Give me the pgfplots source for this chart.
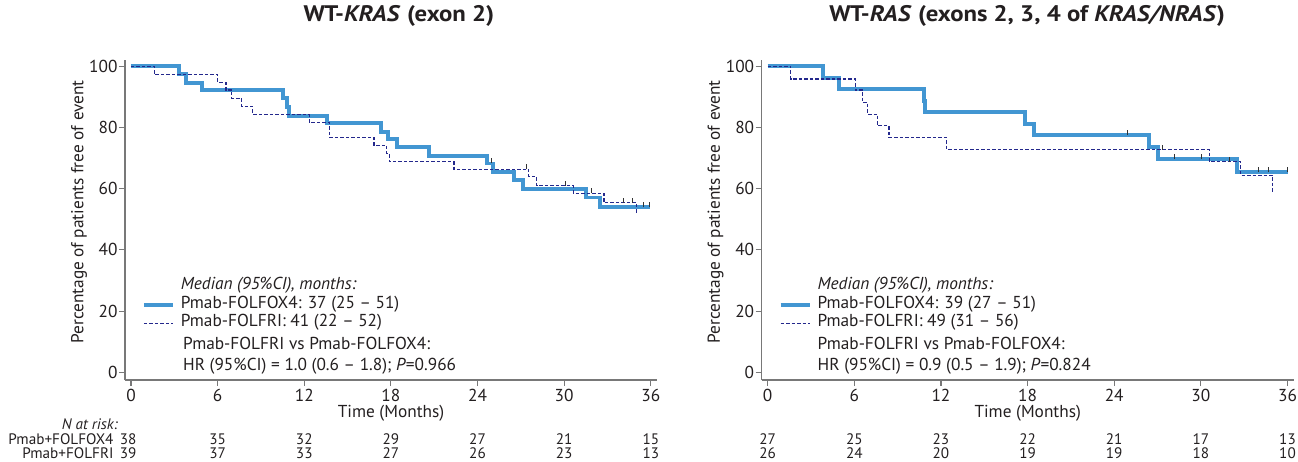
\documentclass[border=0pt]{standalone}
\usepackage{fontspec}
\setmainfont{PT Sans}
\newfontfamily\tfamily[FakeStretch=1.1]{PT Sans}
\usepackage{pgfplots}
\pgfplotsset{compat=1.18}
\definecolor{kmblue}{RGB}{66,150,210}
\definecolor{kmnavy}{RGB}{35,40,140}
\definecolor{axgray}{RGB}{120,120,120}
\definecolor{txt}{RGB}{35,31,32}
\newcommand\fs{\fontsize{17.3}{20}\selectfont}
\newcommand\fr{\fontsize{15.2}{17}\selectfont}
\newcommand\ft{\tfamily\fontsize{22.5}{25}\selectfont}
\pgfdeclareplotmark{tickup}{\pgfpathmoveto{\pgfpointorigin}\pgfpathlineto{\pgfqpoint{0pt}{\pgfplotmarksize}}\pgfusepathqstroke}
\tikzset{rk/.style={font=\fr, text=txt, inner sep=0pt}}
\pgfplotsset{
  kmaxis/.style={
    scale only axis, width=532pt, height=320pt, anchor=south west,
    xmin=-0.415, xmax=36.43, ymin=-2.51, ymax=102,
    axis x line*=bottom, axis y line*=left,
    axis line style={axgray, line width=1.3pt},
    xtick={0,6,...,36}, ytick={0,20,...,100},
    tick align=outside, major tick length=6pt,
    tick style={axgray, line width=1.1pt},
    /pgf/number format/assume math mode=true,
    ticklabel style={font=\fs, text=txt},
    xticklabel style={inner sep=1pt, yshift=-2pt},
    yticklabel style={xshift=2pt},
    xlabel={Time (Months)}, ylabel={Percentage of patients free of event},
    every axis y label/.style={at={(rel axis cs:-0.0865,0.525)}, rotate=90, anchor=center, font=\fs, text=txt},
    every axis x label/.style={at={(rel axis cs:0.5,-0.104)}, anchor=center, font=\fs, text=txt, inner sep=0pt},
    clip=false,
    legend style={draw=none, fill=none, at={(axis cs:0.75,31.2)}, anchor=north west,
      font=\fs, inner sep=0pt, row sep=0pt, text=txt,
      nodes={inner sep=1pt, text height=12pt, text depth=4.5pt, anchor=west},
      /tikz/every odd column/.append style={column sep=5pt}},
    legend cell align=left,
    legend image code/.code={\draw[##1] (0pt,0pt) -- (29pt,0pt);},
  },
  solidkm/.style={kmblue, line width=3.8pt, const plot, mark=none},
  dashkm/.style={kmnavy, line width=1.1pt, dash pattern=on 3.5pt off 2pt, const plot, mark=none},
  cens/.style={only marks, mark=tickup, mark size=5pt, mark options={black!80, line width=0.8pt, solid}, forget plot},
}
\begin{document}
\begin{tikzpicture}
\useasboundingbox (0,0) rectangle (1298pt,461pt);
% ---------------- Left panel ----------------
\begin{axis}[kmaxis, at={(125pt,81pt)},
  title={\textbf{WT-\textit{KRAS} (exon 2)}},
  title style={at={(rel axis cs:0.515,1.119)}, anchor=center, font=\ft\bfseries, text=txt}]
\addlegendimage{empty legend}\addlegendentry{\textit{Median (95\%CI), months:}}
\addplot[solidkm] coordinates {
(0,100) (3.34,97.3) (3.81,94.5) (4.92,92.1) (10.55,89.5) (10.78,86.7) (10.96,83.8)
(13.59,81.3) (17.31,78.6) (17.81,76.1) (18.4,73.5) (20.66,70.7) (24.63,68.2)
(25.09,65.5) (26.52,62.8) (27.13,59.8) (31.49,57.1) (32.48,53.9) (35.95,53.9)};
\addlegendentry{Pmab-FOLFOX4: 37 (25 – 51)}
\addplot[dashkm] coordinates {
(0,100) (1.61,97.2) (6.0,94.7) (6.58,92.2) (6.97,89.5) (7.67,86.9) (8.43,84.3)
(12.35,81.7) (13.73,76.8) (16.83,74.2) (17.71,71.5) (17.89,68.8) (22.37,66.3)
(27.56,63.9) (28.1,60.9) (30.63,58.4) (32.76,55.4) (35.02,51.7)};
\addlegendentry{Pmab-FOLFRI: 41 (22 – 52)}
\addplot[cens] coordinates {(24.93,68.2) (35.5,53.9) (35.9,53.9)};
\addplot[cens] coordinates {(27.4,66.3) (30.1,60.9) (31.9,58.4) (34.1,55.4) (34.7,55.4)};
\node[anchor=north west, align=left, font=\fs, text=txt, inner sep=0pt] at (axis cs:3.6,11.5)
  {Pmab-FOLFRI vs Pmab-FOLFOX4:\\[1pt] HR (95\%CI) = 1.0 (0.6 – 1.8); \textit{P}=0.966};
% risk table
\node[anchor=east, font=\fr\itshape, text=txt, inner sep=0pt] at (axis cs:-0.9,-16.9) {N at risk:};
\node[anchor=east, rk] at (axis cs:-1.2,-21.9) {Pmab+FOLFOX4};
\node[anchor=east, rk] at (axis cs:-1.2,-26.5) {Pmab+FOLFRI};
\node[rk] at (axis cs:-0.2,-21.9) {38}; \node[rk] at (axis cs:-0.2,-26.5) {39};
\node[rk] at (axis cs:6,-21.9) {35};  \node[rk] at (axis cs:6,-26.5) {37};
\node[rk] at (axis cs:12,-21.9) {32}; \node[rk] at (axis cs:12,-26.5) {33};
\node[rk] at (axis cs:18,-21.9) {29}; \node[rk] at (axis cs:18,-26.5) {27};
\node[rk] at (axis cs:24,-21.9) {27}; \node[rk] at (axis cs:24,-26.5) {26};
\node[rk] at (axis cs:30,-21.9) {21}; \node[rk] at (axis cs:30,-26.5) {23};
\node[rk] at (axis cs:36,-21.9) {15}; \node[rk] at (axis cs:36,-26.5) {13};
\end{axis}
% ---------------- Right panel ----------------
\begin{axis}[kmaxis, at={(761.7pt,81pt)},
  title={\textbf{WT-\textit{RAS} (exons 2, 3, 4 of \textit{KRAS/NRAS})}},
  title style={at={(rel axis cs:0.499,1.119)}, anchor=center, font=\ft\bfseries, text=txt}]
\addlegendimage{empty legend}\addlegendentry{\textit{Median (95\%CI), months:}}
\addplot[solidkm] coordinates {
(0,100) (3.81,96.2) (4.96,92.4) (10.82,88.7) (10.91,84.9) (17.82,81.1) (18.46,77.5)
(26.43,73.7) (27.05,69.6) (32.48,65.3) (36.0,65.3)};
\addlegendentry{Pmab-FOLFOX4: 39 (27 – 51)}
\addplot[dashkm] coordinates {
(0,100) (1.61,95.8) (6.05,92.2) (6.58,88.1) (6.93,84.3) (7.62,80.5) (8.4,76.7)
(12.4,72.7) (30.58,68.8) (32.76,64.4) (34.97,59.0)};
\addlegendentry{Pmab-FOLFRI: 49 (31 – 56)}
\addplot[cens] coordinates {(24.9,77.5) (28.2,69.6) (30.05,69.6) (34.0,65.3) (34.7,65.3) (35.97,65.3)};
\addplot[cens] coordinates {(27.35,72.7) (32.0,68.8)};
\node[anchor=north west, align=left, font=\fs, text=txt, inner sep=0pt] at (axis cs:3.45,11.5)
  {Pmab-FOLFRI vs Pmab-FOLFOX4:\\[1pt] HR (95\%CI) = 0.9 (0.5 – 1.9); \textit{P}=0.824};
\node[rk] at (axis cs:0,-21.9) {27};  \node[rk] at (axis cs:0,-26.5) {26};
\node[rk] at (axis cs:6,-21.9) {25};  \node[rk] at (axis cs:6,-26.5) {24};
\node[rk] at (axis cs:12,-21.9) {23}; \node[rk] at (axis cs:12,-26.5) {20};
\node[rk] at (axis cs:18,-21.9) {22}; \node[rk] at (axis cs:18,-26.5) {19};
\node[rk] at (axis cs:24,-21.9) {21}; \node[rk] at (axis cs:24,-26.5) {19};
\node[rk] at (axis cs:30,-21.9) {17}; \node[rk] at (axis cs:30,-26.5) {18};
\node[rk] at (axis cs:36,-21.9) {13}; \node[rk] at (axis cs:36,-26.5) {10};
\end{axis}
\end{tikzpicture}
\end{document}
